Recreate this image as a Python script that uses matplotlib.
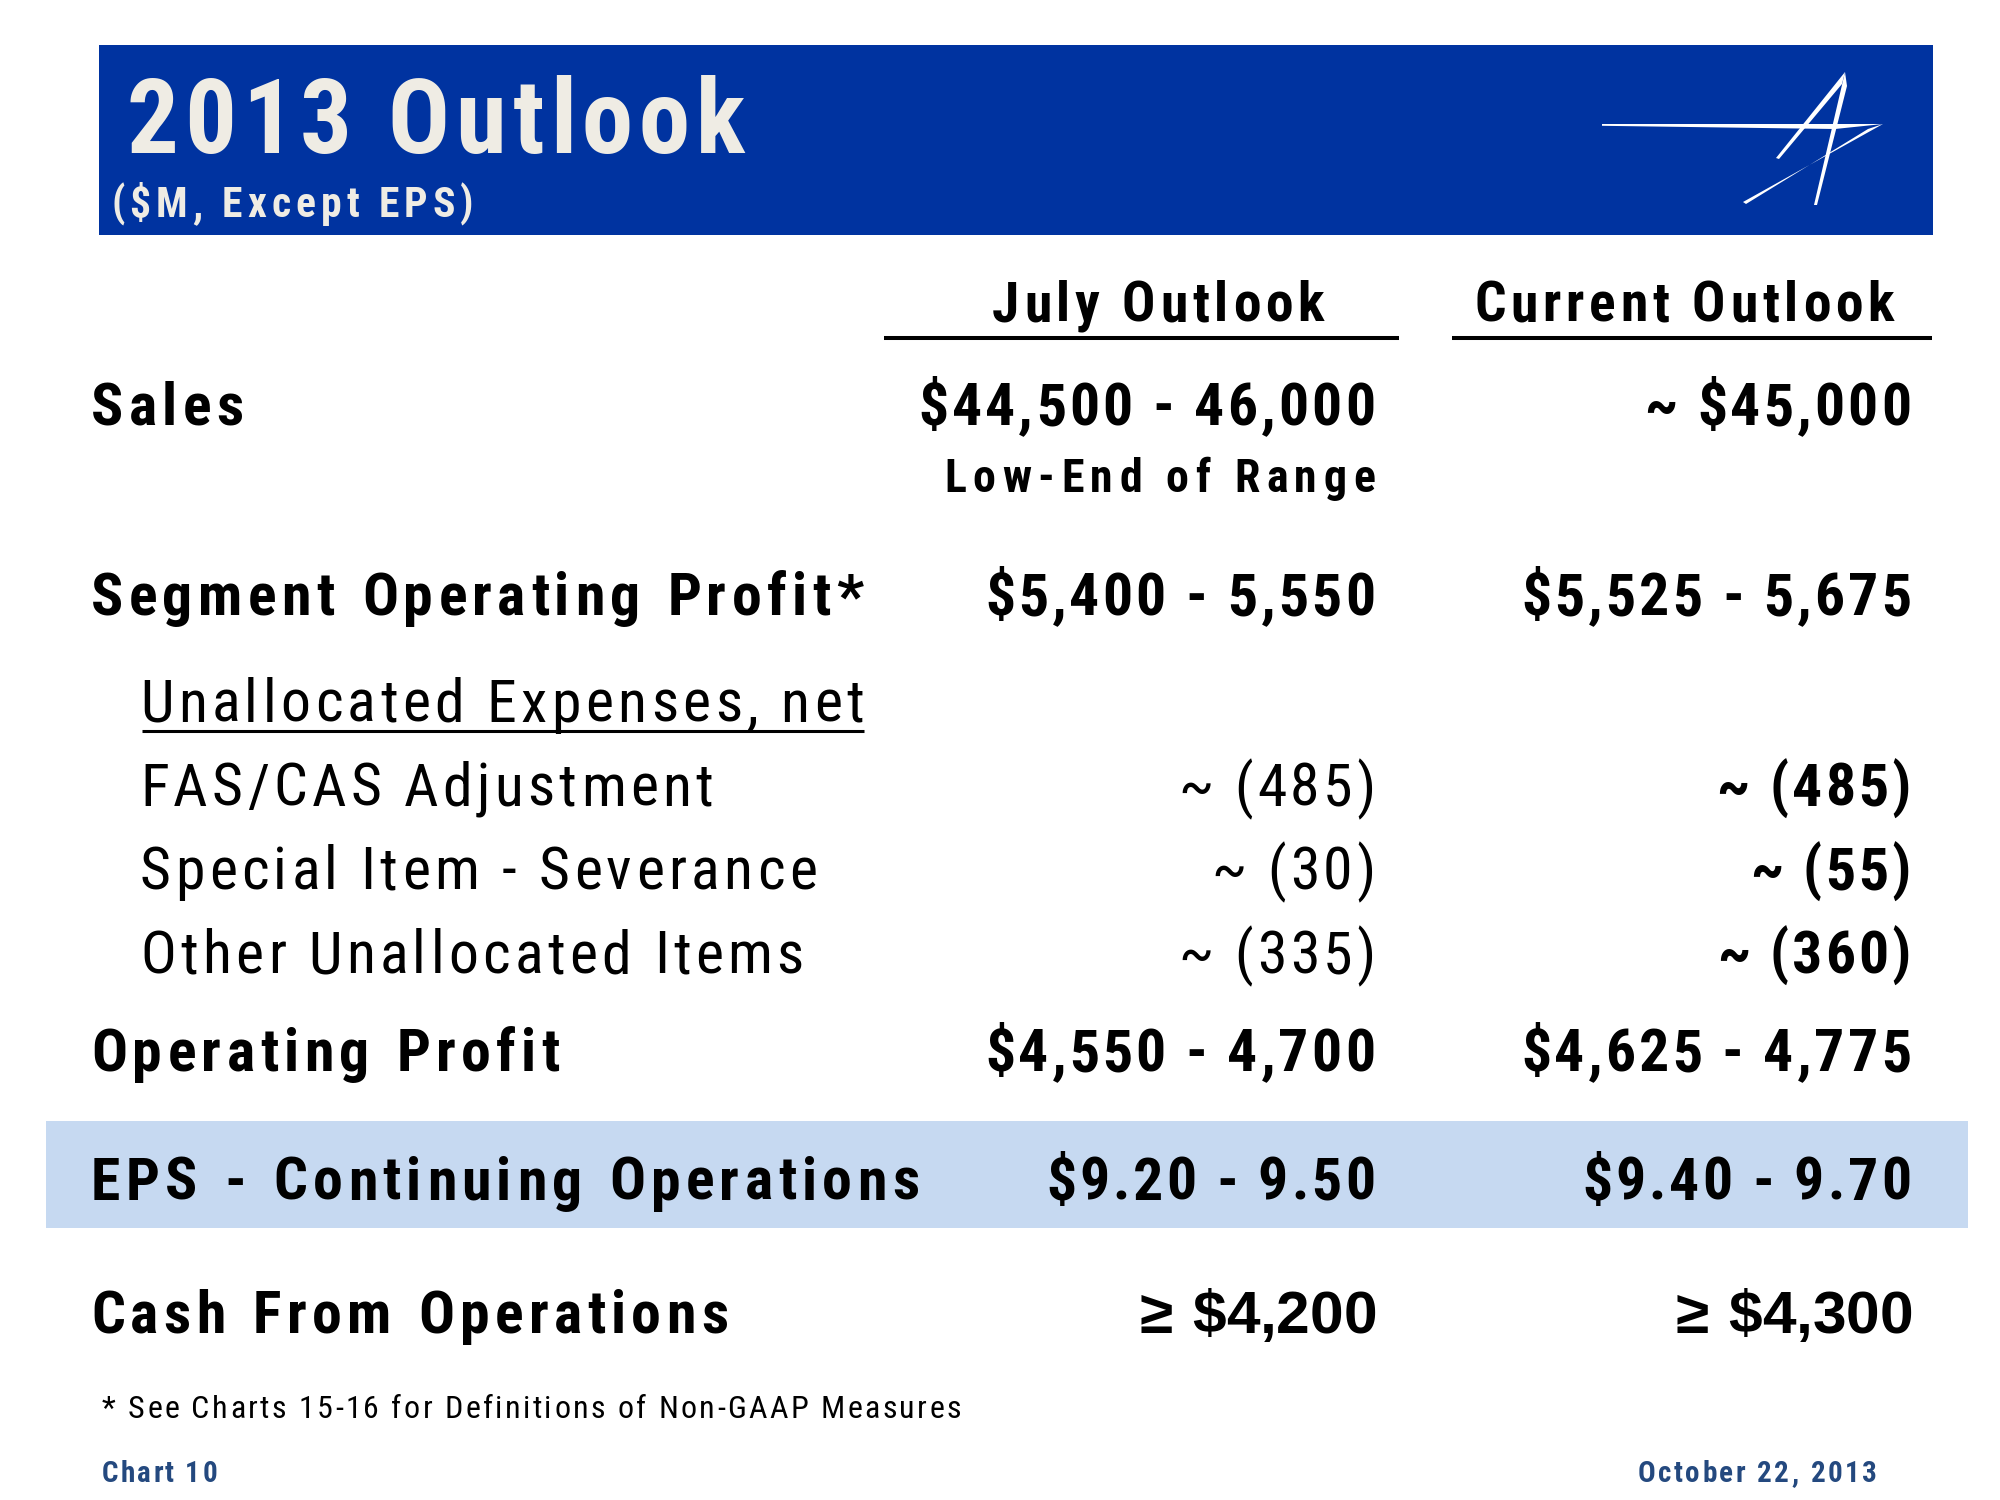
import matplotlib
matplotlib.use('Agg')
import matplotlib.pyplot as plt
from matplotlib import font_manager as fm
from matplotlib.patches import Rectangle, Polygon

names = set(f.name for f in fm.fontManager.ttflist)
NARROW = 'Roboto Condensed'
for cand in ['Liberation Sans Narrow', 'Roboto Condensed', 'PT Sans Narrow']:
    if cand in names:
        NARROW = cand
        break
WIDE = 'Liberation Sans'

# ---- data ----
title = '2013 Outlook'
subtitle = '($M, Except EPS)'
col_heads = ['July Outlook', 'Current Outlook']
row_labels = ['Sales', 'Segment Operating Profit*', 'Unallocated Expenses, net',
              'FAS/CAS Adjustment', 'Special Item - Severance', 'Other Unallocated Items',
              'Operating Profit', 'EPS - Continuing Operations', 'Cash From Operations']
row_kind = ['main', 'main', 'subhead', 'sub', 'sub', 'sub', 'main', 'main', 'cash']
july = ['$44,500 - 46,000', '$5,400 - 5,550', '', '~ (485)', '~ (30)', '~ (335)',
        '$4,550 - 4,700', '$9.20 - 9.50', '\u2265 $4,200']
current = ['~ $45,000', '$5,525 - 5,675', '', '~ (485)', '~ (55)', '~ (360)',
           '$4,625 - 4,775', '$9.40 - 9.70', '\u2265 $4,300']
july_note = 'Low-End of Range'
footnote = '* See Charts 15-16 for Definitions of Non-GAAP Measures'
chart_no = 'Chart 10'
date_txt = 'October 22, 2013'

# ---- layout (pixels) ----
row_y = [425, 615, 722, 806, 889, 973, 1071, 1200, 1333]
BLUE = '#0033A0'
BAND = '#C6D9F1'
FOOT = '#24497F'
CREAM = '#EFECE4'

fig = plt.figure(figsize=(20, 15), dpi=100)
ax = fig.add_axes([0, 0, 1, 1])
ax.set_xlim(0, 2000)
ax.set_ylim(1500, 0)
ax.axis('off')
r = fig.canvas.get_renderer()

_cache = {}
def cw(ch, size, weight, family):
    key = (ch, size, weight, family)
    if key not in _cache:
        def w(s):
            t = ax.text(0, 0, s, fontsize=size, fontweight=weight, family=[family, 'DejaVu Sans'])
            v = t.get_window_extent(r).width
            t.remove()
            return v
        _cache[key] = w('|' + ch + '|') - w('||')
    return _cache[key]

def spaced(x, y, s, size, track=0., ha='left', weight='normal', family=NARROW,
           color='black', sp=0.):
    ws = [cw(c, size, weight, family) + (sp if c == ' ' else 0) for c in s]
    total = sum(ws) + track * (len(s) - 1)
    if ha == 'right':
        x = x - total
    elif ha == 'center':
        x = x - total / 2
    for c, wd in zip(s, ws):
        if c != ' ':
            ax.text(x, y, c, fontsize=size, fontweight=weight, family=[family, 'DejaVu Sans'],
                    color=color, va='baseline', ha='left')
        x += wd + track
    return total

# header
ax.add_patch(Rectangle((99, 45), 1834, 190, color=BLUE, lw=0))
spaced(126, 153, title, 74, track=6, weight='bold', color=CREAM)
spaced(111, 217, subtitle, 30, track=5, weight='bold', color=CREAM)

# logo strokes
ax.add_patch(Polygon([(1602, 124), (1883, 124), (1835, 129), (1602, 125.8)], color='white', lw=0))
ax.add_patch(Polygon([(1883, 124), (1743, 202), (1746, 204), (1868, 129)], color='white', lw=0))
ax.add_patch(Polygon([(1845, 72), (1776, 158), (1779, 159), (1842, 84)], color='white', lw=0))
ax.add_patch(Polygon([(1845, 72), (1814, 205), (1817, 205), (1847, 86)], color='white', lw=0))

# column headers
cx = [1158, 1684]
for h, x in zip(col_heads, cx):
    spaced(x, 321, h, 40, track=4.8, ha='center', weight='bold')
ax.plot([884, 1399], [338, 338], color='black', lw=2.9, solid_capstyle='butt')
ax.plot([1452, 1932], [338, 338], color='black', lw=2.9, solid_capstyle='butt')

# EPS band
ax.add_patch(Rectangle((46, 1121), 1922, 107, color=BAND, lw=0, zorder=0))

c1, c2 = 1375, 1911
for lab, kind, a, b, y in zip(row_labels, row_kind, july, current, row_y):
    if kind in ('main', 'cash'):
        spaced(91, y, lab, 43, track=5.3, weight='bold', sp=3)
    elif kind == 'subhead':
        w = spaced(140, y, lab, 43, track=4.4)
        ax.plot([142, 140 + w], [y + 9, y + 9], color='black', lw=2.2, solid_capstyle='butt')
    else:
        spaced(140, y, lab, 43, track=4.3)
    if kind == 'main':
        spaced(c1, y, a, 43, track=3, ha='right', weight='bold')
        spaced(c2, y, b, 43, track=3, ha='right', weight='bold')
    elif kind == 'sub':
        spaced(c1, y, a, 43, track=3.5, ha='right')
        spaced(c2, y, b, 43, track=3, ha='right', weight='bold')
    elif kind == 'cash':
        spaced(c1 + 2, y, a, 43.5, track=0, ha='right', weight='bold', family=WIDE, sp=3)
        spaced(c2 + 2, y, b, 43.5, track=0, ha='right', weight='bold', family=WIDE, sp=3)

spaced(c1, 492, july_note, 33, track=6.6, ha='right', weight='bold')

# footer
spaced(102, 1418, footnote, 23, track=2.4)
spaced(102, 1482, chart_no, 21, track=2.2, weight='bold', color=FOOT)
spaced(1877, 1482, date_txt, 21, track=2.5, ha='right', weight='bold', color=FOOT)

fig.savefig('out.png', dpi=100, facecolor='white')
